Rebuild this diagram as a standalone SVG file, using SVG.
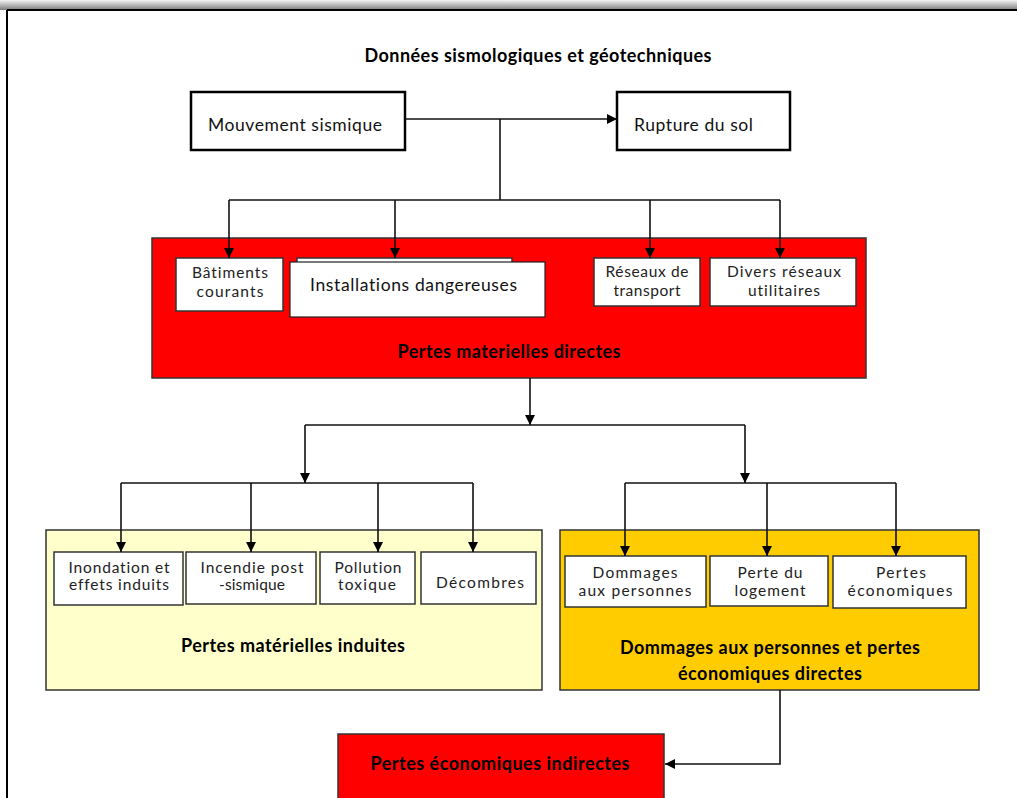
<svg xmlns="http://www.w3.org/2000/svg" width="1017" height="798" viewBox="0 0 1017 798">
  <defs>
    <linearGradient id="topShade" x1="0" y1="0" x2="0" y2="1">
      <stop offset="0" stop-color="#f4f4f4"/>
      <stop offset="1" stop-color="#7a7a7a"/>
    </linearGradient>
    <marker id="arrow" viewBox="0 0 10 10" refX="10" refY="5" markerWidth="10" markerHeight="10" markerUnits="userSpaceOnUse" orient="auto">
      <path d="M0,0 L10,5 L0,10 Z" fill="#000"/>
    </marker>
    <style>
      text { font-family: Lato, "Liberation Sans", sans-serif; fill: #111; font-variant-ligatures: none; }
      .t-main { font-size: 17.5px; }
      .t-small { font-size: 15.5px; fill: #222; }
      .t-bold { font-size: 18px; font-weight: bold; fill: #000; }
      .box-top { fill: #fff; stroke: #000; stroke-width: 2.5; }
      .box-item { fill: #fff; stroke: #333; stroke-width: 1.5; }
      .box-group { stroke: #333; stroke-width: 1.5; }
      .red { fill: #ff0000; }
      .pale { fill: #ffffcc; }
      .gold { fill: #ffcc00; }
      .conn { fill: none; stroke: #111; stroke-width: 1.6; }
      .conn-arrow { fill: none; stroke: #111; stroke-width: 1.6; marker-end: url(#arrow); }
    </style>
  </defs>

  <!-- page frame -->
  <g id="frame">
    <rect x="0" y="0" width="1017" height="10" fill="url(#topShade)"/>
    <line x1="7" y1="10" x2="1017" y2="10" stroke="#000" stroke-width="2"/>
    <line x1="7" y1="10" x2="7" y2="798" stroke="#000" stroke-width="2"/>
  </g>

  <g id="title">
    <text class="t-bold" x="538" y="62" text-anchor="middle" textLength="347">Données sismologiques et géotechniques</text>
  </g>

  <!-- source nodes -->
  <g id="mouvement">
    <rect class="box-top" x="191" y="92" width="214" height="58"/>
    <text class="t-main" x="208" y="131" textLength="174">Mouvement sismique</text>
  </g>
  <g id="rupture">
    <rect class="box-top" x="617" y="92" width="173" height="58"/>
    <text class="t-main" x="634" y="131" textLength="119">Rupture du sol</text>
  </g>

  <!-- direct material losses -->
  <g id="pertes-directes">
    <rect class="box-group red" x="152" y="238" width="714" height="140"/>
    <text class="t-bold" x="509" y="358" text-anchor="middle" textLength="223">Pertes materielles directes</text>
  </g>
  <g id="batiments">
    <rect class="box-item" x="176" y="258" width="107" height="53"/>
    <text class="t-small" x="230" y="278" text-anchor="middle" textLength="76">Bâtiments</text>
    <text class="t-small" x="230" y="297" text-anchor="middle" textLength="67">courants</text>
  </g>
  <g id="installations">
    <rect class="box-item" x="297" y="258" width="215" height="12"/>
    <rect fill="#fff" stroke="#222" stroke-width="1.2" x="290" y="262" width="255" height="55"/>
    <text class="t-main" x="310" y="291" textLength="207">Installations dangereuses</text>
  </g>
  <g id="transport">
    <rect class="box-item" x="594" y="258" width="106" height="48"/>
    <text class="t-small" x="647" y="277" text-anchor="middle" textLength="83">Réseaux de</text>
    <text class="t-small" x="647" y="296" text-anchor="middle" textLength="67">transport</text>
  </g>
  <g id="utilitaires">
    <rect class="box-item" x="710" y="258" width="146" height="48"/>
    <text class="t-small" x="784" y="277" text-anchor="middle" textLength="114">Divers réseaux</text>
    <text class="t-small" x="784" y="296" text-anchor="middle" textLength="72">utilitaires</text>
  </g>

  <!-- induced material losses -->
  <g id="pertes-induites">
    <rect class="box-group pale" x="46" y="530" width="496" height="160"/>
    <text class="t-bold" x="293" y="652" text-anchor="middle" textLength="224">Pertes matérielles induites</text>
  </g>
  <g id="inondation">
    <rect class="box-item" x="54" y="552" width="129" height="53"/>
    <text class="t-small" x="119" y="573" text-anchor="middle" textLength="101">Inondation et</text>
    <text class="t-small" x="119" y="590" text-anchor="middle" textLength="100">effets induits</text>
  </g>
  <g id="incendie">
    <rect class="box-item" x="186" y="552" width="130" height="52"/>
    <text class="t-small" x="252" y="573" text-anchor="middle" textLength="103">Incendie post</text>
    <text class="t-small" x="252" y="590" text-anchor="middle" textLength="66">-sismique</text>
  </g>
  <g id="pollution">
    <rect class="box-item" x="320" y="552" width="95" height="52"/>
    <text class="t-small" x="368" y="573" text-anchor="middle" textLength="67">Pollution</text>
    <text class="t-small" x="367" y="590" text-anchor="middle" textLength="58">toxique</text>
  </g>
  <g id="decombres">
    <rect class="box-item" x="421" y="552" width="115" height="52"/>
    <text class="t-small" x="480" y="588" text-anchor="middle" textLength="88">Décombres</text>
  </g>

  <!-- personal and direct economic losses -->
  <g id="dommages-directs">
    <rect class="box-group gold" x="560" y="530" width="419" height="160"/>
    <text class="t-bold" x="770" y="654" text-anchor="middle" textLength="300">Dommages aux personnes et pertes</text>
    <text class="t-bold" x="770" y="680" text-anchor="middle" textLength="184">économiques directes</text>
  </g>
  <g id="dommages-personnes">
    <rect class="box-item" x="565" y="556" width="141" height="51"/>
    <text class="t-small" x="635" y="578" text-anchor="middle" textLength="85">Dommages</text>
    <text class="t-small" x="635" y="596" text-anchor="middle" textLength="113">aux personnes</text>
  </g>
  <g id="logement">
    <rect class="box-item" x="710" y="556" width="118" height="50"/>
    <text class="t-small" x="770" y="578" text-anchor="middle" textLength="65">Perte du</text>
    <text class="t-small" x="770" y="596" text-anchor="middle" textLength="71">logement</text>
  </g>
  <g id="pertes-economiques">
    <rect class="box-item" x="833" y="556" width="133" height="52"/>
    <text class="t-small" x="901" y="578" text-anchor="middle" textLength="50">Pertes</text>
    <text class="t-small" x="900" y="596" text-anchor="middle" textLength="105">économiques</text>
  </g>

  <!-- indirect economic losses -->
  <g id="pertes-indirectes">
    <rect class="box-group red" x="338" y="734" width="326" height="70"/>
    <text class="t-bold" x="500" y="770" text-anchor="middle" textLength="259">Pertes économiques indirectes</text>
  </g>

  <!-- connectors, drawn last so the arrowheads sit on top of the container boxes -->
  <g id="connectors">
    <path class="conn-arrow" d="M405,119 H617"/>
    <path class="conn" d="M500,119 V200"/>
    <path class="conn" d="M229,200 H780"/>
    <path class="conn-arrow" d="M229,200 V258"/>
    <path class="conn-arrow" d="M395,200 V258"/>
    <path class="conn-arrow" d="M650,200 V258"/>
    <path class="conn-arrow" d="M780,200 V258"/>

    <path class="conn-arrow" d="M530,378 V425"/>
    <path class="conn" d="M305,425 H745"/>
    <path class="conn-arrow" d="M305,425 V483"/>
    <path class="conn-arrow" d="M745,425 V483"/>

    <path class="conn" d="M121,483 H473"/>
    <path class="conn-arrow" d="M121,483 V552"/>
    <path class="conn-arrow" d="M251,483 V552"/>
    <path class="conn-arrow" d="M378,483 V552"/>
    <path class="conn-arrow" d="M473,483 V552"/>

    <path class="conn" d="M625,483 H896"/>
    <path class="conn-arrow" d="M625,483 V556"/>
    <path class="conn-arrow" d="M767,483 V556"/>
    <path class="conn-arrow" d="M896,483 V556"/>

    <path class="conn-arrow" d="M780,690 V764 H665"/>
  </g>
</svg>
